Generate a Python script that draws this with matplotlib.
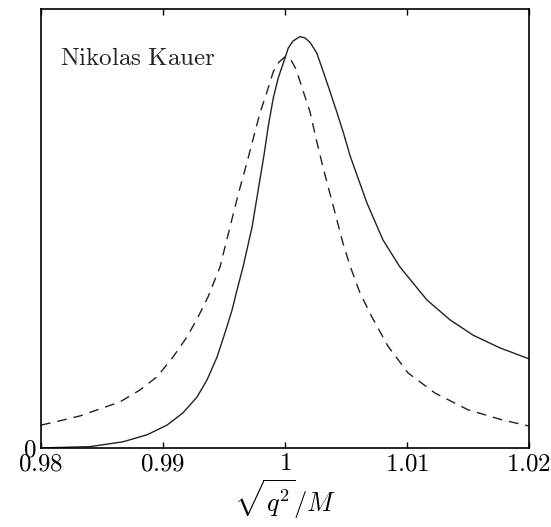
import matplotlib
matplotlib.use("Agg")
from matplotlib import pyplot as plt

plt.rcParams['mathtext.fontset'] = 'cm'
plt.rcParams['font.family'] = 'serif'
plt.rcParams['font.serif'] = ['DejaVu Serif']

# dashed curve
dashed_x = [0.98000, 0.98156, 0.98320, 0.98484, 0.98648, 0.98811, 0.98951, 0.99082,
            0.99197, 0.99287, 0.99369, 0.99467, 0.99549, 0.99615, 0.99689, 0.99754,
            0.99795, 0.99850, 0.99904, 0.99951, 1.00000, 1.00049, 1.00090, 1.00150,
            1.00205, 1.00246, 1.00311, 1.00393, 1.00475, 1.00533, 1.00615, 1.00713,
            1.00844, 1.01008, 1.01230, 1.01500, 1.01779, 1.02000]
dashed_y = [0.052, 0.062, 0.073, 0.089, 0.105, 0.132, 0.162, 0.207,
            0.253, 0.298, 0.344, 0.412, 0.503, 0.576, 0.651, 0.720,
            0.763, 0.809, 0.857, 0.879, 0.891, 0.884, 0.863, 0.812,
            0.766, 0.715, 0.640, 0.554, 0.467, 0.415, 0.353, 0.298,
            0.232, 0.171, 0.125, 0.087, 0.064, 0.050]

# solid curve
solid_x = [0.98000, 0.98402, 0.98672, 0.98869, 0.99033, 0.99164, 0.99279, 0.99361,
           0.99443, 0.99508, 0.99566, 0.99607, 0.99656, 0.99730, 0.99779, 0.99828,
           0.99863, 0.99904, 0.99945, 1.00000, 1.00027, 1.00066, 1.00123, 1.00164,
           1.00205, 1.00260, 1.00314, 1.00369, 1.00424, 1.00479, 1.00533, 1.00672,
           1.00803, 1.00943, 1.01164, 1.01352, 1.01541, 1.01762, 1.02000]
solid_y = [0.000, 0.003, 0.014, 0.030, 0.052, 0.080, 0.116, 0.155,
           0.207, 0.262, 0.314, 0.360, 0.412, 0.503, 0.585, 0.667,
           0.733, 0.797, 0.843, 0.888, 0.911, 0.927, 0.937, 0.934,
           0.924, 0.900, 0.857, 0.812, 0.766, 0.718, 0.666, 0.558,
           0.474, 0.412, 0.337, 0.292, 0.257, 0.228, 0.203]

xticks = [0.98, 0.99, 1.0, 1.01, 1.02]
xtick_labels = ['$0.98$', '$0.99$', '$1$', '$1.01$', '$1.02$']

fig = plt.figure(figsize=(5.51, 5.27), dpi=100)
ax = fig.add_axes([0.0744, 0.150, 0.8856, 0.833])

ax.plot(solid_x, solid_y, color='#222222', linewidth=1.0)
ax.plot(dashed_x, dashed_y, color='#222222', linewidth=1.0, linestyle=(0, (7, 5)))

ax.set_xlim(0.98, 1.02)
ax.set_ylim(0, 1)
ax.set_xticks(xticks)
ax.set_xticklabels(xtick_labels, fontsize=18)
ax.set_yticks([0])
ax.set_yticklabels(['$0$'], fontsize=18)
ax.tick_params(axis='x', direction='in', length=4, width=1, top=True, pad=3)
ax.tick_params(axis='y', length=0, pad=3)
for s in ax.spines.values():
    s.set_linewidth(1.2)

ax.set_xlabel(r'$\sqrt{q^2}/M$', fontsize=19, labelpad=2)
ax.text(0.98156, 0.872, r'$\mathrm{Nikolas\ Kauer}$', fontsize=18, va='baseline', ha='left', color='#222222')

fig.savefig('out.png', dpi=100)
